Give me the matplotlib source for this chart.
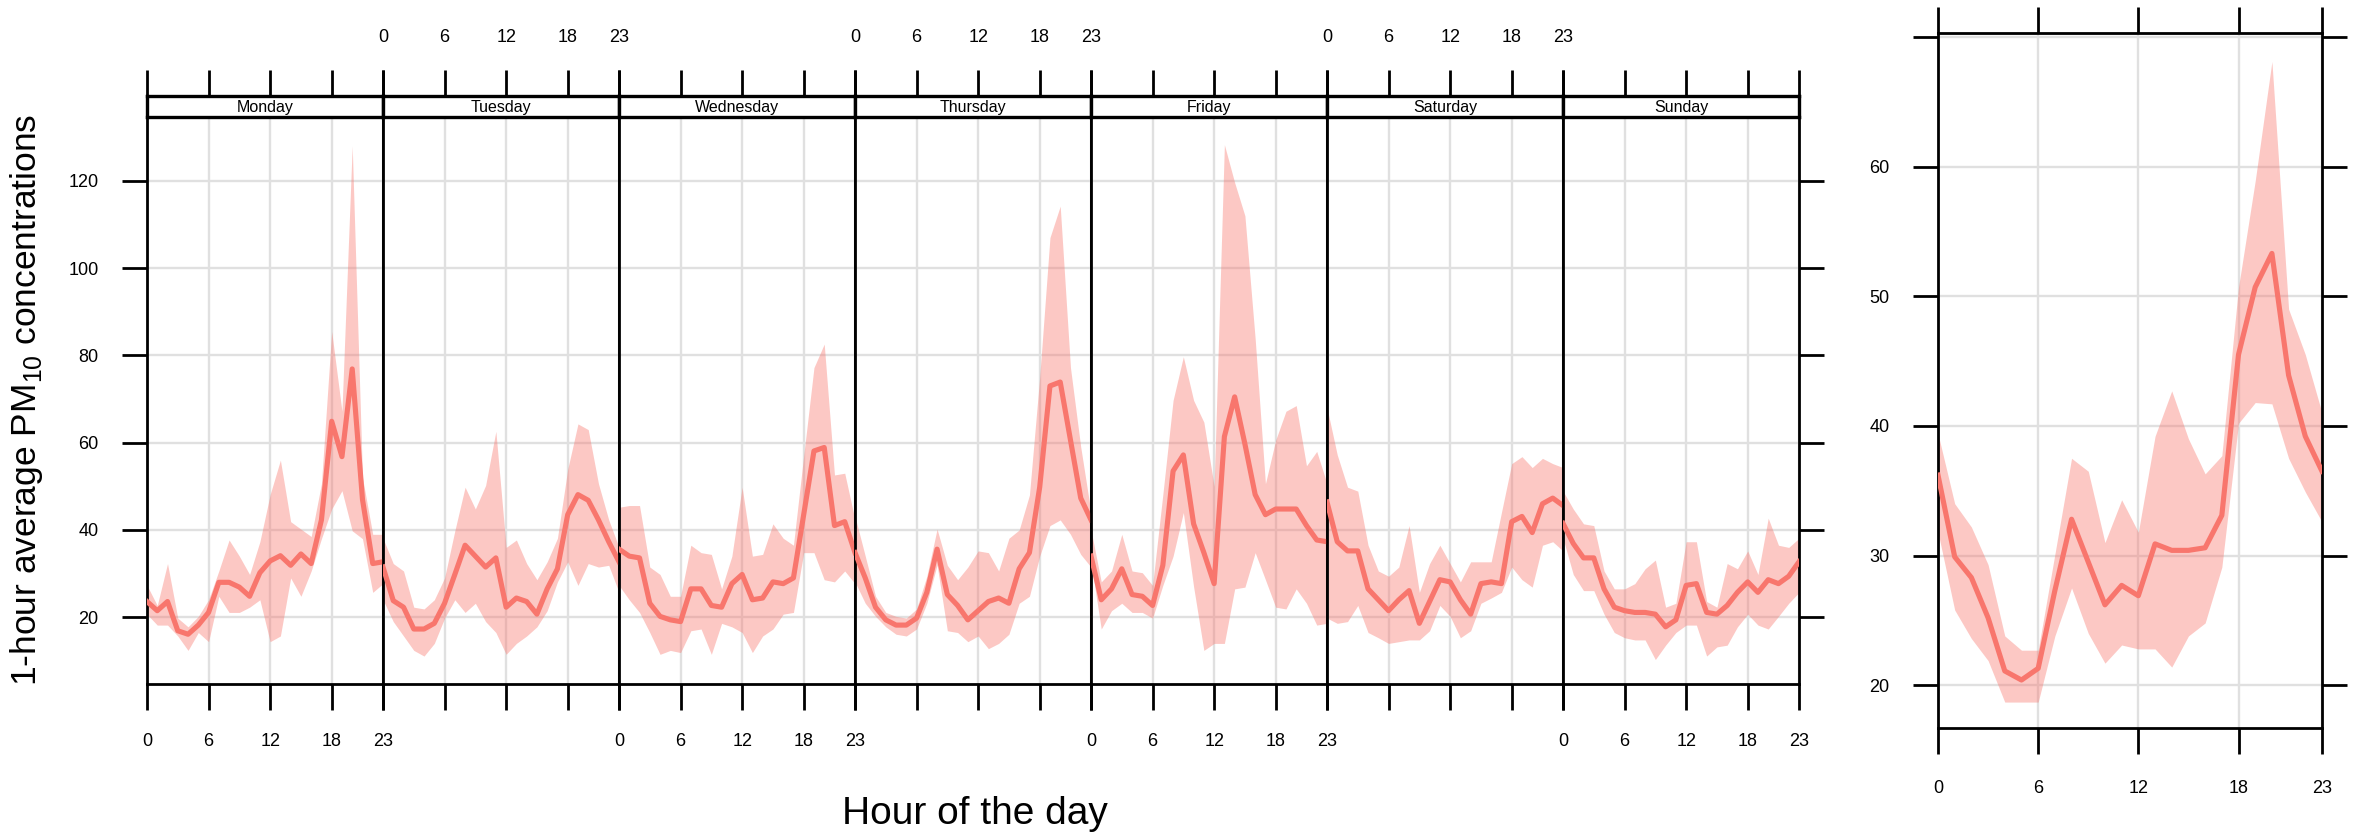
import matplotlib
matplotlib.use("Agg")
import matplotlib.pyplot as plt
from matplotlib import font_manager as fm

# ---------------- data ----------------
days = ["Monday", "Tuesday", "Wednesday", "Thursday", "Friday", "Saturday", "Sunday"]
hours = list(range(24))
hour_ticks = [0, 6, 12, 18, 23]
day_yticks = [20, 40, 60, 80, 100, 120]
hour_yticks = [20, 30, 40, 50, 60, 70]
hour_yticklabels = ["20", "30", "40", "50", "60", ""]

mon_mean = [23.6, 21.5, 23.6, 16.9, 16.1, 18.2, 21.1, 28.0, 28.0, 26.9, 24.8, 30.2, 32.9, 34.1, 31.9, 34.5, 32.3, 42.3, 64.9, 56.8, 76.9, 47.0, 32.3, 32.7]
mon_upper = [27.3, 22.7, 32.3, 19.8, 17.8, 20.2, 24.0, 30.6, 37.7, 34.0, 29.8, 37.3, 48.1, 56.0, 41.9, 40.2, 38.5, 50.6, 85.5, 67.2, 128.0, 52.0, 39.0, 39.0]
mon_lower = [20.7, 18.2, 18.2, 15.7, 12.4, 16.5, 14.4, 24.8, 21.1, 21.1, 22.3, 24.0, 14.4, 15.7, 29.0, 24.8, 30.6, 38.0, 44.8, 49.0, 39.8, 38.0, 25.7, 27.7]

tue_mean = [31.5, 23.8, 22.3, 17.3, 17.3, 18.6, 23.2, 29.8, 36.5, 34.0, 31.5, 33.6, 22.3, 24.4, 23.6, 20.7, 26.5, 31.1, 43.5, 48.1, 46.8, 42.3, 37.3, 32.7]
tue_upper = [38.1, 32.3, 30.6, 22.3, 21.9, 24.0, 29.0, 39.8, 49.8, 44.8, 50.2, 62.6, 36.0, 37.7, 32.3, 28.6, 32.7, 38.1, 53.9, 64.3, 63.0, 50.6, 42.3, 36.0]
tue_lower = [24.0, 19.0, 15.7, 12.4, 11.1, 14.0, 19.8, 24.0, 21.1, 23.2, 19.0, 16.5, 11.5, 14.0, 15.7, 17.8, 21.5, 28.1, 32.7, 27.3, 32.3, 31.5, 31.9, 25.7]

wed_mean = [35.6, 34.0, 33.6, 23.2, 20.2, 19.4, 19.0, 26.5, 26.5, 22.7, 22.3, 27.7, 29.8, 24.0, 24.4, 28.1, 27.7, 29.0, 43.5, 58.1, 58.9, 41.0, 41.9, 34.8]
wed_upper = [45.2, 45.6, 45.6, 31.5, 29.8, 24.8, 24.8, 36.5, 34.8, 34.4, 26.5, 34.0, 49.8, 34.0, 34.4, 41.4, 38.1, 36.5, 57.0, 77.2, 82.6, 52.6, 53.0, 42.3]
wed_lower = [27.3, 24.0, 21.1, 16.5, 11.5, 12.4, 11.9, 16.9, 17.3, 11.5, 18.6, 17.8, 16.5, 11.9, 15.7, 17.3, 20.7, 21.1, 34.8, 34.8, 28.6, 28.1, 30.6, 27.7]

thu_mean = [34.8, 29.0, 22.3, 19.4, 18.2, 18.2, 19.8, 25.7, 35.6, 25.2, 22.7, 19.4, 21.5, 23.6, 24.4, 23.2, 31.1, 34.8, 49.8, 73.0, 73.9, 60.6, 47.3, 42.3]
thu_upper = [43.1, 34.0, 24.8, 21.1, 20.2, 19.8, 21.9, 29.4, 40.2, 31.9, 28.6, 31.5, 35.2, 34.8, 30.6, 38.1, 40.0, 48.0, 75.0, 107.0, 114.2, 77.2, 59.0, 44.0]
thu_lower = [28.1, 23.2, 20.2, 17.8, 16.1, 15.7, 17.3, 23.2, 32.0, 16.9, 16.5, 14.4, 15.7, 12.8, 14.0, 16.1, 23.2, 24.8, 34.0, 41.0, 42.3, 39.0, 34.4, 31.5]

fri_mean = [34.0, 24.0, 26.5, 31.1, 25.2, 24.8, 22.7, 31.9, 53.5, 57.2, 41.4, 34.8, 27.7, 61.4, 70.5, 59.7, 48.1, 43.5, 44.8, 44.8, 44.8, 41.0, 37.7, 37.3]
fri_upper = [40.0, 28.1, 30.6, 39.0, 30.6, 30.2, 27.3, 48.1, 69.7, 79.7, 69.7, 64.7, 50.0, 128.3, 119.6, 112.0, 83.8, 50.6, 60.6, 67.2, 68.5, 54.7, 58.0, 50.6]
fri_lower = [32.6, 17.3, 21.5, 23.2, 21.1, 21.1, 19.8, 27.3, 34.0, 44.0, 27.0, 12.4, 14.0, 14.0, 26.5, 26.9, 34.8, 28.6, 22.3, 21.9, 26.5, 23.2, 18.2, 18.6]

sat_mean = [46.4, 37.3, 35.2, 35.2, 26.5, 24.0, 21.5, 24.0, 26.1, 18.6, 23.6, 28.6, 28.1, 24.0, 20.7, 27.7, 28.1, 27.7, 41.9, 43.1, 39.4, 46.0, 47.3, 45.6]
sat_upper = [68.0, 57.2, 49.8, 48.9, 36.5, 30.6, 29.4, 31.5, 41.0, 25.7, 32.3, 36.5, 32.3, 28.1, 32.7, 32.7, 32.7, 44.0, 55.2, 56.8, 54.3, 56.4, 55.2, 54.3]
sat_lower = [19.8, 18.6, 19.0, 22.7, 16.5, 15.3, 14.0, 14.4, 14.8, 14.8, 16.9, 22.7, 20.2, 15.3, 16.9, 23.2, 24.4, 25.7, 31.5, 28.6, 26.9, 36.5, 37.3, 35.2]

sun_mean = [41.5, 36.9, 33.6, 33.6, 26.5, 22.3, 21.5, 21.1, 21.1, 20.7, 17.8, 19.4, 27.3, 27.7, 21.1, 20.7, 22.7, 25.7, 28.1, 25.7, 28.6, 27.7, 29.4, 32.7]
sun_upper = [48.9, 44.8, 41.4, 41.0, 30.6, 26.5, 26.5, 27.7, 31.1, 33.1, 22.3, 23.2, 37.3, 37.3, 23.6, 22.3, 32.3, 31.1, 35.2, 29.8, 42.7, 36.5, 36.0, 38.1]
sun_lower = [38.1, 29.8, 26.1, 26.1, 20.7, 16.5, 15.3, 14.8, 14.8, 10.3, 13.6, 16.5, 18.2, 18.2, 11.1, 13.2, 13.6, 17.8, 20.7, 18.2, 17.3, 20.2, 23.2, 25.7]

hour_mean = [36.2, 29.9, 28.3, 25.2, 21.1, 20.4, 21.3, 27.3, 32.8, 29.5, 26.2, 27.7, 26.9, 30.9, 30.4, 30.4, 30.6, 33.1, 45.5, 50.7, 53.3, 43.9, 39.2, 36.5]
hour_upper = [39.4, 34.0, 32.2, 29.3, 23.8, 22.7, 22.7, 30.1, 37.5, 36.5, 31.0, 34.3, 31.8, 39.2, 42.7, 39.0, 36.3, 37.7, 50.7, 58.9, 68.1, 49.0, 45.5, 41.0]
hour_lower = [31.8, 25.8, 23.6, 21.9, 18.7, 18.7, 18.7, 23.8, 27.5, 24.0, 21.7, 23.1, 22.8, 22.8, 21.4, 23.8, 24.8, 29.1, 40.2, 41.8, 41.7, 37.5, 34.9, 32.6]

means = [mon_mean, tue_mean, wed_mean, thu_mean, fri_mean, sat_mean, sun_mean]
uppers = [mon_upper, tue_upper, wed_upper, thu_upper, fri_upper, sat_upper, sun_upper]
lowers = [mon_lower, tue_lower, wed_lower, thu_lower, fri_lower, sat_lower, sun_lower]

ylabel = "1-hour average PM$_{\\mathregular{10}}$ concentrations"
xlabel = "Hour of the day"

# ---------------- style ----------------
names = {f.name for f in fm.fontManager.ttflist}
tick_font = "Liberation Sans Narrow" if "Liberation Sans Narrow" in names else "Liberation Sans"
plt.rcParams["font.family"] = [tick_font, "DejaVu Sans"]

COL = "#F8766D"
GRID = "#E0E0E0"
W, H = 2359.0, 835.0
TICKSIZE = 13
LW = 3.7


def rect(x0, y0, x1, y1):
    return [x0 / W, 1 - y1 / H, (x1 - x0) / W, (y1 - y0) / H]


fig = plt.figure(figsize=(W / 100, H / 100), dpi=100)

PL, PW = 147.0, 236.0
PT, PB, ST = 116.7, 684.0, 96.0

for i, day in enumerate(days):
    x0 = PL + i * PW
    ax = fig.add_axes(rect(x0, PT, x0 + PW, PB))
    ax.fill_between(hours, lowers[i], uppers[i], color=COL, alpha=0.4, linewidth=0, zorder=2)
    ax.plot(hours, means[i], color=COL, lw=LW, zorder=3, solid_joinstyle="round")
    ax.set_xlim(0, 23)
    ax.set_ylim(4.7, 134.7)
    ax.set_xticks(hour_ticks)
    ax.set_yticks(day_yticks)
    ax.set_axisbelow(True)
    ax.grid(True, color=GRID, lw=1.7)
    for s in ax.spines.values():
        s.set_linewidth(2)
        s.set_color("black")
    ax.tick_params(axis="x", direction="out", length=18.5, width=2, bottom=True, top=False,
                   labelbottom=(i % 2 == 0), pad=17, labelsize=TICKSIZE)
    ax.tick_params(axis="y", direction="out", length=18, width=2, left=(i == 0), right=(i == 6),
                   labelleft=(i == 0), labelright=False, pad=17, labelsize=TICKSIZE)

    sx = fig.add_axes(rect(x0, ST, x0 + PW, PT))
    sx.set_xlim(0, 23)
    sx.set_ylim(0, 1)
    sx.set_xticks(hour_ticks)
    sx.set_yticks([])
    for s in sx.spines.values():
        s.set_linewidth(2.4)
        s.set_color("black")
    sx.tick_params(axis="x", direction="out", length=19, width=2, bottom=False, top=True,
                   labelbottom=False, labeltop=(i % 2 == 1), pad=17, labelsize=TICKSIZE)
    sx.text(11.5, 0.45, day, ha="center", va="center", fontsize=11.5)

# hour-of-day panel
ah = fig.add_axes(rect(1938, 33, 2322, 728))
ah.fill_between(hours, hour_lower, hour_upper, color=COL, alpha=0.4, linewidth=0, zorder=2)
ah.plot(hours, hour_mean, color=COL, lw=LW, zorder=3, solid_joinstyle="round")
ah.set_xlim(0, 23)
ah.set_ylim(16.7, 70.3)
ah.set_xticks(hour_ticks)
ah.set_yticks(hour_yticks)
ah.set_yticklabels(hour_yticklabels)
ah.set_axisbelow(True)
ah.grid(True, color=GRID, lw=1.7)
for s in ah.spines.values():
    s.set_linewidth(2)
    s.set_color("black")
ah.tick_params(axis="x", direction="out", length=18.5, width=2, bottom=True, top=True,
               labelbottom=True, labeltop=False, pad=19, labelsize=TICKSIZE)
ah.tick_params(axis="y", direction="out", length=18, width=2, left=True, right=True,
               labelleft=True, labelright=False, pad=17, labelsize=TICKSIZE)

fig.text(27 / W, 1 - 400 / H, ylabel, rotation=90, ha="center", va="center",
         fontsize=25.5, family=["Liberation Sans", "DejaVu Sans"])
fig.text(975 / W, 1 - 814 / H, xlabel, ha="center", va="center",
         fontsize=28, family=["Liberation Sans", "DejaVu Sans"])

fig.savefig("out.png", dpi=100)
